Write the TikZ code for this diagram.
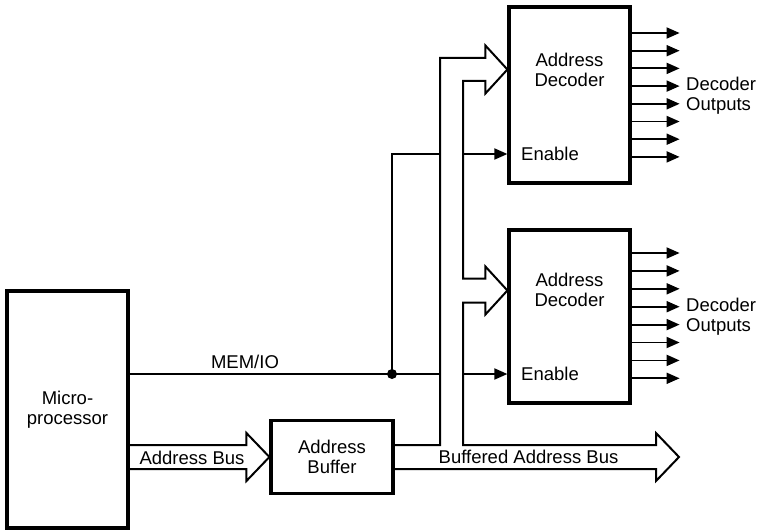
\documentclass[tikz,border=0pt]{standalone}
\usepackage{fontspec}
\setmainfont{Liberation Sans}
\usetikzlibrary{arrows.meta,calc}
\begin{document}
\begin{tikzpicture}[x=1pt,y=-1pt,
  box/.style={draw,line width=3.2pt,inner sep=0pt,align=center,
    font=\fontsize{18.5}{20}\selectfont},
  txt/.style={inner sep=0pt,align=center,font=\fontsize{18.5}{20}\selectfont},
  sig/.style={line width=1.8pt},
  sigarrow/.style={line width=1.8pt,-{Triangle[length=13pt,width=11pt]}},
  bus/.style={line width=2pt,line join=miter}]
\useasboundingbox (0,0) rectangle (763,532);

% blocks
\node[box,minimum width=121pt,minimum height=237pt] (mp) at (67.5,409.5) {Micro-\\processor};
\node[box,minimum width=122pt,minimum height=73pt] (buf) at (332,457) {Address\\Buffer};
\node[box,minimum width=121pt,minimum height=176pt] (dec1) at (569.5,95) {};
\node[box,minimum width=121pt,minimum height=173pt] (dec2) at (569.5,316.5) {};

% labels inside / beside decoders
\node[txt] (d1lab) at (569.5,70) {Address\\Decoder};
\node[txt] (d2lab) at (569.5,290) {Address\\Decoder};
\node[txt,anchor=west] (en1) at (521,154) {Enable};
\node[txt,anchor=west] (en2) at (521,374) {Enable};
\node[txt,anchor=west,align=left] (o1) at (686,96) {Decoder\\Outputs};
\node[txt,anchor=west,align=left] (o2) at (686,317) {Decoder\\Outputs};

% bus labels
\node[txt] (memlab) at (245,362) {MEM/IO};
\node[txt] (ablab) at (192,458) {Address Bus};
\node[txt] (bablab) at (528.5,457) {Buffered Address Bus};

% helper coordinates
\coordinate (bx) at (440,0);
\coordinate (bi) at (463,0);
\coordinate (j) at (392,374);
\coordinate (abt) at (buf.west);
\coordinate (t1) at ([yshift=25.5pt]dec1.west);
\coordinate (t2) at ([yshift=26pt]dec2.west);
\coordinate (t3) at (679,457);

% decoder outputs
\foreach \i in {0,...,7} {
  \draw[sigarrow] ($(dec1.east)+(0,33-95+\i*17.7)$) -- ++(48,0);
  \draw[sigarrow] ($(dec2.east)+(0,253-316.5+\i*17.9)$) -- ++(48,0);
}

% MEM/IO line and enables
\draw[sig] (mp.east |- j) -- (j -| bx);
\draw[sig] (j) -- (j |- en1.west) -- (en1.west -| bx);
\fill (j) circle (5pt);
\draw[sigarrow] (en1.west -| bi) -- (en1.west -| dec1.west);
\draw[sigarrow] (en2.west -| bi) -- (en2.west -| dec2.west);

% address bus (hollow)
\draw[bus] ($(mp.east |- abt)+(0,-12)$) -- ($(abt)+(-23,-12)$) -- ($(abt)+(-23,-24)$)
  -- (abt) -- ($(abt)+(-23,24)$) -- ($(abt)+(-23,12)$) -- ($(mp.east |- abt)+(0,12)$);

% buffered address bus (hollow, branching)
\draw[bus] ($(buf.east)+(0,-12)$) -- ($(buf.east -| bx)+(0,-12)$) -- ($(t1 -| bx)+(0,-11.5)$)
  -- ($(t1)+(-22,-11.5)$) -- ($(t1)+(-22,-24)$) -- (t1) -- ($(t1)+(-22,24)$) -- ($(t1)+(-22,11.5)$)
  -- ($(t1 -| bi)+(0,11.5)$) -- ($(t2 -| bi)+(0,-12)$)
  -- ($(t2)+(-22,-12)$) -- ($(t2)+(-22,-24)$) -- (t2) -- ($(t2)+(-22,24)$) -- ($(t2)+(-22,12)$)
  -- ($(t2 -| bi)+(0,12)$) -- ($(t3 -| bi)+(0,-12)$)
  -- ($(t3)+(-23,-12)$) -- ($(t3)+(-23,-24)$) -- (t3) -- ($(t3)+(-23,24)$) -- ($(t3)+(-23,12)$)
  -- ($(buf.east)+(0,12)$);
\end{tikzpicture}
\end{document}
